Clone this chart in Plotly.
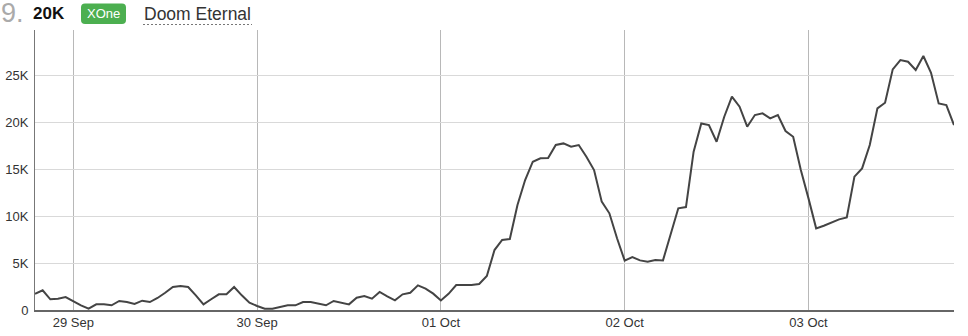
import pandas as pd
import plotly.graph_objects as go

# ---- data (hourly players, 28 Sep 19:00 -> 03 Oct 19:00) ----
start_time = "2020-09-28 19:00"
players = [
    1730, 2100, 1140, 1200, 1380, 920, 500, 140, 600, 600,
    500, 960, 850, 640, 990, 850, 1280, 1830, 2450, 2550,
    2450, 1560, 600, 1140, 1670, 1670, 2450, 1560, 780, 430,
    140, 140, 320, 500, 500, 850, 850, 670, 500, 960,
    780, 600, 1310, 1490, 1210, 1920, 1450, 1030, 1670, 1840,
    2620, 2270, 1740, 1010, 1720, 2660, 2660, 2660, 2770, 3620,
    6380, 7450, 7550, 11170, 13830, 15780, 16140, 16170, 17560, 17730,
    17380, 17560, 16320, 14900, 11530, 10290, 7630, 5250, 5640, 5280,
    5140, 5320, 5280, 7980, 10820, 10960, 16850, 19860, 19680, 17910,
    20570, 22700, 21640, 19510, 20750, 20930, 20390, 20750, 19050, 18440,
    14900, 11880, 8690, 8970, 9290, 9650, 9860, 14190, 15070, 17560,
    21460, 22060, 25610, 26600, 26420, 25540, 27030, 25250, 21990, 21810,
    19680,
]
times = pd.date_range(start_time, periods=len(players), freq="h")

y_tickvals = [0, 5000, 10000, 15000, 20000, 25000]
y_ticktext = ["0", "5K", "10K", "15K", "20K", "25K"]

rank_text = "9."
count_text = "20K"
platform_text = "XOne"
title_text = "Doom Eternal"

# ---- layout geometry ----
W, H = 968, 336
ML, MR, MT, MB = 35, 14, 30, 26
PW, PH = W - ML - MR, H - MT - MB


def px(x):
    return (x - ML) / PW


def py(y):
    return (H - MB - y) / PH


FONT = "Liberation Sans, Arial, sans-serif"

fig = go.Figure()
fig.add_trace(go.Scatter(
    x=times, y=players, mode="lines",
    line=dict(color="#444444", width=2),
    hoverinfo="skip", showlegend=False,
))

# rounded badge path
bx0, bx1, by0, by1, r = 81, 126, 3.5, 24, 4
path = (
    f"M {px(bx0 + r)} {py(by0)} L {px(bx1 - r)} {py(by0)} "
    f"Q {px(bx1)} {py(by0)} {px(bx1)} {py(by0 + r)} "
    f"L {px(bx1)} {py(by1 - r)} Q {px(bx1)} {py(by1)} {px(bx1 - r)} {py(by1)} "
    f"L {px(bx0 + r)} {py(by1)} Q {px(bx0)} {py(by1)} {px(bx0)} {py(by1 - r)} "
    f"L {px(bx0)} {py(by0 + r)} Q {px(bx0)} {py(by0)} {px(bx0 + r)} {py(by0)} Z"
)

shapes = [
    dict(type="path", xref="paper", yref="paper", path=path,
         fillcolor="#4caf50", line=dict(width=0), layer="above"),
    dict(type="line", xref="paper", yref="paper",
         x0=px(143), x1=px(252), y0=py(24.5), y1=py(24.5),
         line=dict(color="#777777", width=1, dash="2px,2px")),
]

annotations = [
    dict(text=rank_text, xref="paper", yref="paper", x=px(0), y=py(13),
         xanchor="left", yanchor="middle", showarrow=False, borderpad=0,
         font=dict(family=FONT, size=27, color="#aaaaaa")),
    dict(text=f"<b>{count_text}</b>", xref="paper", yref="paper", x=px(31), y=py(14),
         xanchor="left", yanchor="middle", showarrow=False,
         font=dict(family=FONT, size=17, color="#111111")),
    dict(text=platform_text, xref="paper", yref="paper", x=px(103.5), y=py(14),
         xanchor="center", yanchor="middle", showarrow=False,
         font=dict(family=FONT, size=13, color="#ffffff")),
    dict(text=title_text, xref="paper", yref="paper", x=px(142), y=py(14),
         xanchor="left", yanchor="middle", showarrow=False,
         font=dict(family=FONT, size=17.5, color="#333333")),
]

fig.update_layout(
    width=W, height=H,
    margin=dict(l=ML, r=MR, t=MT, b=MB, pad=0, autoexpand=False),
    paper_bgcolor="white", plot_bgcolor="white",
    font=dict(family=FONT, size=13, color="#333333"),
    shapes=shapes, annotations=annotations,
    xaxis=dict(
        type="date", range=[times[0], times[-1]],
        tick0="2020-09-29", dtick=86400000, tickformat="%d %b",
        showgrid=True, gridcolor="#b8b8b8", gridwidth=1,
        showline=True, linecolor="#666666", linewidth=1.5,
        ticks="", zeroline=False, fixedrange=True, automargin=False,
        tickfont=dict(family=FONT, size=13, color="#333333"),
    ),
    yaxis=dict(
        range=[0, 29800], tickvals=y_tickvals, ticktext=y_ticktext,
        showgrid=True, gridcolor="#d9d9d9", gridwidth=1,
        showline=True, linecolor="#777777", linewidth=1,
        ticks="", zeroline=False, fixedrange=True, automargin=False,
        ticklabelstandoff=3,
        tickfont=dict(family=FONT, size=13, color="#333333"),
    ),
)

fig.write_html("out.html", config={"displayModeBar": False})
